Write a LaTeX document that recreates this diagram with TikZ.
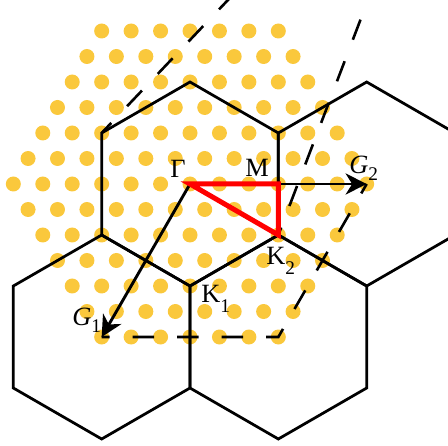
\documentclass[tikz,border=0pt]{standalone}
\usepackage{fontspec}
\setmainfont{Liberation Serif}
\usepackage{tikz}
\usetikzlibrary{calc}
\usetikzlibrary{arrows.meta}

\definecolor{dotgold}{RGB}{250,200,60}
\newcommand{\lowsub}[2]{\raisebox{#1}{\fontsize{11}{12}\selectfont #2}}

\begin{document}
\begin{tikzpicture}[every node/.style={font=\fontsize{15}{17}\selectfont, inner sep=0pt},
    >={Stealth[length=0.42cm, width=0.42cm, inset=0.13cm]},
    hexedge/.style={black, line width=0.055cm, line join=miter},
    celledge/.style={black, line width=0.052cm, dash pattern=on 0.43cm off 0.46cm, dash phase=0.27cm},
    vecarrow/.style={black, line width=0.058cm, ->},
    pathred/.style={red, line width=0.1cm, line join=miter},
    lbl/.style={anchor=base west}]

% =========================================================
% Brillouin zones on a dotted lattice, high-symmetry path
% =========================================================

\def\hexR{2.04}
\def\hexW{1.7667}
\def\dotA{0.5889}
\def\dotH{0.51}

\useasboundingbox (-3.8,-5.22) rectangle (5.16,3.68);
\clip (-3.8,-5.22) rectangle (5.16,3.68);

% --- 1. COORDINATE DEFINITION ---
% Hexagon centres
\coordinate (hexC) at (0,0);
\coordinate (hexR) at (3.5333,0);
\coordinate (hexLL) at (-1.7667,-3.06);
\coordinate (hexLR) at (1.7667,-3.06);

% High-symmetry points and lattice vectors
\coordinate (Gamma) at (0,0);
\coordinate (M) at (1.7667,0);
\coordinate (K2) at (1.7667,-1.02);
\coordinate (K1) at (0,-2.04);
\coordinate (G1) at (-1.7667,-3.06);
\coordinate (G2) at (3.5333,0);
\coordinate (G12) at (1.7667,-3.06);

% Free ends of the long dashed lines
\coordinate (Vul) at (-1.7667,1.02);
\coordinate (Atop) at (0.968,3.9);
\coordinate (Btop) at (3.644,3.9);

% --- 2. DOT LATTICE (hexagonal patch) ---
\foreach \j in {-6,...,6} {
    \pgfmathtruncatemacro\ndots{12-abs(\j)}
    \foreach \k in {0,...,\ndots} {
        \fill[dotgold] ({(\k-\ndots/2)*\dotA},{\j*\dotH}) circle (0.15);
    }
}

% --- 3. HEXAGONAL ZONES ---
\foreach \c in {hexC,hexR,hexLL,hexLR}
    \draw[hexedge] ($(\c)+(30:\hexR)$) -- ++(150:\hexR) -- ++(210:\hexR)
        -- ++(270:\hexR) -- ++(330:\hexR) -- ++(30:\hexR) -- cycle;

% --- 4. DASHED CELL ---
\draw[celledge] (G1) -- (G12) -- (G2);
\draw[celledge, dash phase=0.15cm] (Vul) -- (Atop);
\draw[celledge] (K2) -- (Btop);

% --- 5. RECIPROCAL VECTORS ---
\draw[vecarrow] (Gamma) -- (G1);
\draw[vecarrow] (Gamma) -- (G2);

% Path Gamma - M - K
\draw[pathred] (Gamma) -- (M) -- (K2) -- cycle;

% --- 6. LABELS ---
\node[lbl] (lblGamma) at (-0.4,0.12) {Γ};
\node[lbl] (lblM) at (1.1,0.15) {M};
\node[lbl] (lblGtwo) at (3.18,0.2) {\textit{G}\lowsub{-3.5pt}{2}};
\node[lbl] (lblGone) at (-2.36,-2.82) {\textit{G}\lowsub{-4pt}{1}};
\node[lbl] (lblKone) at (0.22,-2.36) {K\lowsub{-6pt}{1}};
\node[lbl] (lblKtwo) at (1.52,-1.6) {K\lowsub{-6pt}{2}};

\end{tikzpicture}
\end{document}
